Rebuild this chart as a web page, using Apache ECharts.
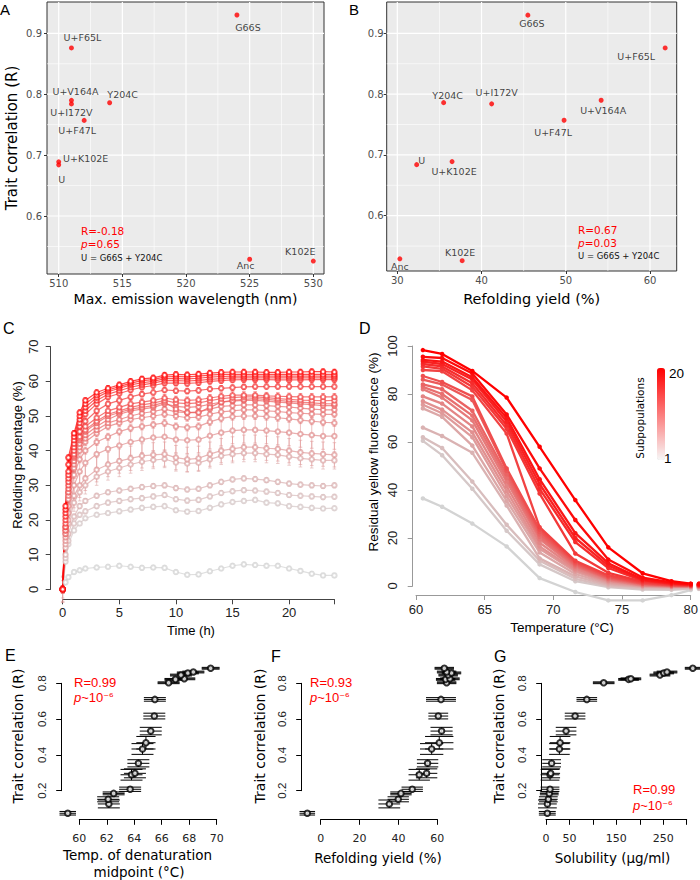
<!DOCTYPE html>
<html>
<head>
<meta charset="utf-8">
<script src="https://cdn.jsdelivr.net/npm/echarts@6/dist/echarts.min.js"></script>
<style>
  html, body { margin: 0; padding: 0; background: #fff; }
  #chart { width: 700px; height: 880px; }
</style>
</head>
<body>
<div id="chart"></div>
<script>
// ---- panels A / B : single mutants ----
const mutants = ['G66S', 'U+F65L', 'U+V164A', 'U+I172V', 'Y204C', 'U+F47L', 'U+K102E', 'U', 'Anc', 'K102E'];
const mutantR = [0.930, 0.876, 0.790, 0.784, 0.786, 0.757, 0.689, 0.684, 0.529, 0.526];
const emissionMax = [524, 511, 511, 511, 514, 512, 510, 510, 525, 530];
const mutantYield = [45.5, 61.8, 54.2, 41.2, 35.5, 49.8, 36.5, 32.3, 30.3, 37.7];

const aXMajor = [510, 515, 520, 525, 530];
const aXMinor = [512.5, 517.5, 522.5, 527.5];
const bXMajor = [30, 40, 50, 60];
const bXMinor = [35, 45, 55];
const abYMajor = [0.6, 0.7, 0.8, 0.9];
const abYMinor = [0.55, 0.65, 0.75, 0.85];

// ---- panel C : refolding time course, subpopulations 1..20 ----
const refoldTime = [0, 0.25, 0.5, 1, 1.5, 2, 3, 4, 5, 6, 7, 8, 9, 10, 11, 12, 13, 14, 15, 16, 17, 18, 19, 20, 21, 22, 23, 24];
const refold01 = [0, 2, 3.5, 5, 5.5, 6, 6.3, 6.5, 6.8, 6.5, 6.2, 6.3, 6.2, 5, 4.2, 4.3, 5.2, 6, 6.8, 7.2, 7, 6.8, 6.8, 6, 5.3, 4.5, 4, 4];
const refold02 = [0, 8, 13, 17, 19, 20.5, 21.5, 22, 22.5, 23, 23.5, 23.8, 24, 22.8, 22.4, 22.6, 23.5, 24.5, 25.2, 25.5, 25.8, 25, 24.8, 24, 23.8, 23.5, 23.3, 23.4];
const refold03 = [0, 9, 14, 19, 21.5, 22.5, 24, 25, 25.5, 26, 26.3, 26.8, 27.2, 26, 25.6, 25.8, 26.8, 27.8, 28.3, 28.6, 28.5, 28.2, 27.8, 27.2, 27, 26.8, 26.6, 26.7];
const refold04 = [0, 10, 16, 21, 24, 25.5, 27, 28, 28.5, 29, 29.5, 29.8, 30, 29.2, 28.8, 29, 30, 31, 31.7, 32, 31.8, 31.5, 31, 30.5, 30.2, 30, 29.8, 30];
const refold05 = [0, 12, 19, 25, 28, 30, 32.5, 34, 35, 36, 36.8, 37.3, 37.6, 36.6, 36.3, 36.5, 37.5, 38.5, 39, 39.3, 39.3, 39, 38.8, 38.3, 37.8, 37.5, 37.2, 37.2];
const refold06 = [0, 13, 20, 27, 30, 32, 34.5, 36, 37, 37.8, 38.5, 38.8, 39, 38, 37.5, 37.8, 39, 40, 40.5, 41, 41, 40.7, 40.5, 40, 39.5, 39.2, 39, 38.8];
const refold07 = [0, 14, 22, 30, 34, 36.5, 39, 40.5, 41.5, 42.5, 43.2, 43.8, 44, 43.2, 43, 43.2, 44.3, 45.2, 45.8, 46, 46, 45.8, 45.5, 45.2, 44.8, 44.5, 44.2, 44.2];
const refold08 = [0, 15, 24, 33, 37.5, 40, 42.5, 44, 45.5, 46.5, 47, 47.5, 48, 47, 46.7, 47, 48.3, 49.3, 49.8, 50, 50, 49.8, 49.5, 49.2, 48.8, 48.5, 48.2, 48];
const refold09 = [0, 16, 26, 35, 40, 42.5, 45, 47, 48, 49, 49.5, 50, 50.5, 50, 49.5, 49.7, 50.5, 51.2, 51.5, 51.8, 51.8, 51.5, 51.3, 51, 50.8, 50.6, 50.5, 50.5];
const refold10 = [0, 16, 27, 36, 41, 43.5, 46, 48, 49, 50, 50.8, 51.3, 52, 51.2, 51, 51.2, 52, 52.8, 53, 53.2, 53.2, 53, 52.8, 52.6, 52.3, 52, 51.8, 51.8];
const refold11 = [0, 17, 28, 37, 42, 44.5, 47, 49, 50.5, 51.5, 52, 52.5, 53.5, 52.8, 52.5, 52.7, 53.4, 54, 54.3, 54.5, 54.5, 54.3, 54, 53.8, 53.5, 53.3, 53, 53];
const refold12 = [0, 17, 28, 38, 43, 45.5, 48, 50, 51, 52, 52.5, 53, 54, 52, 51, 51, 52.5, 54, 54.5, 54.8, 55, 54.8, 54.5, 54.2, 54, 53.8, 53.6, 53.5];
const refold13 = [0, 18, 29, 38.5, 43.5, 46, 48.5, 50.5, 51.5, 52.5, 53.2, 53.7, 54.5, 53.8, 53.6, 53.8, 54.4, 55, 55.3, 55.5, 55.5, 55.3, 55, 54.8, 54.6, 54.5, 54.4, 54.5];
const refold14 = [0, 18, 30, 39, 44, 47, 49.5, 51.5, 52.5, 53.5, 54, 54.5, 55.2, 54.7, 54.5, 54.7, 55.2, 55.7, 56, 56, 56, 55.8, 55.7, 55.6, 55.5, 55.5, 55.5, 55.5];
const refold15 = [0, 19, 31, 40, 45.5, 48.5, 51.5, 53.5, 54.5, 55.5, 56.3, 56.8, 57.5, 57.3, 57.2, 57.4, 57.8, 58, 58.2, 58.4, 58.5, 58.5, 58.5, 58.5, 58.5, 58.5, 58.5, 58.5];
const refold16 = [0, 20, 32, 41, 47, 50.5, 53.5, 55.5, 56.5, 57.5, 58.3, 58.8, 59.5, 59.5, 59.4, 59.6, 60, 60.2, 60.4, 60.5, 60.5, 60.5, 60.4, 60.4, 60.4, 60.5, 60.5, 60.5];
const refold17 = [0, 21, 33, 42, 48, 51.5, 54.5, 56.3, 57.3, 58.3, 59, 59.5, 60.2, 60.2, 60.1, 60.3, 60.6, 60.8, 61, 61, 61, 61, 61, 61, 61, 61, 61, 61];
const refold18 = [0, 22, 34, 43, 49, 52.5, 55.3, 57, 58, 59, 59.6, 60, 60.8, 60.8, 60.7, 60.9, 61.2, 61.4, 61.5, 61.5, 61.5, 61.5, 61.5, 61.5, 61.5, 61.5, 61.5, 61.5];
const refold19 = [0, 23, 36, 44, 50, 53.5, 56, 57.5, 58.5, 59.5, 60.2, 60.5, 61.3, 61.4, 61.3, 61.5, 61.8, 62, 62, 62, 62, 62, 62, 62, 62, 62, 62, 62];
const refold20 = [0, 24, 38, 45, 51, 54.5, 56.8, 58, 59, 60, 60.7, 61, 61.8, 62, 61.9, 62.1, 62.4, 62.6, 62.7, 62.7, 62.7, 62.6, 62.6, 62.7, 62.7, 62.8, 62.8, 62.7];
const refoldSd = [0.6, 0.6, 0.7, 0.7, 2.5, 3.5, 3.8, 1, 1, 1, 1, 1, 1, 1, 0.8, 0.8, 0.8, 0.8, 0.8, 0.8];

// ---- panel D : thermal melt, subpopulations 1..20 ----
const meltTemp = [60.5, 61.9, 64.1, 66.6, 69.0, 71.6, 74.0, 76.5, 78.6, 80.0, 80.6];
const melt01 = [36.5, 33, 26, 16.5, 3.3, -2.5, -6, -6, -3.8, -1.7, -0.5];
const melt02 = [60.5, 54.5, 40.5, 23, 9, 2, -0.5, -1.5, -1.6, -1.2, -1.2];
const melt03 = [62, 57.5, 43.5, 25.5, 10.5, 3, 0, -1, -1.2, -1, -1];
const melt04 = [66, 62.5, 55.5, 33.5, 11.5, 4, 0.5, -0.5, -0.8, -0.7, -0.7];
const melt05 = [74, 70.5, 58.5, 35.5, 14, 5, 1, -0.2, -0.5, -0.5, -0.5];
const melt06 = [75.5, 72, 62, 37.5, 15.5, 6, 1.5, 0, -0.3, -0.4, -0.4];
const melt07 = [77, 73.5, 64, 39.5, 16.5, 6.6, 2, 0.2, -0.2, -0.3, -0.3];
const melt08 = [79, 76, 66.5, 41.5, 18, 7.3, 2.3, 0.3, -0.1, -0.2, -0.2];
const melt09 = [82, 78.5, 69, 43.5, 19.5, 8, 2.7, 0.5, 0, 0, 0];
const melt10 = [83, 80, 71, 45, 20.5, 8.5, 3, 0.7, 0.1, 0, 0];
const melt11 = [84, 82, 73, 46.5, 21.5, 9, 3.3, 0.9, 0.2, 0.1, 0.1];
const melt12 = [86, 84, 77.5, 48, 22.5, 9.5, 3.7, 1, 0.3, 0.2, 0.2];
const melt13 = [87.5, 85, 79, 49, 23.5, 10, 4, 1.2, 0.4, 0.2, 0.2];
const melt14 = [90, 89.5, 81.5, 63.5, 24.5, 10.5, 4.5, 1.5, 0.5, 0.3, 0.3];
const melt15 = [91.5, 90.5, 83, 65.5, 38.5, 13.5, 5.5, 1.8, 0.7, 0.4, 0.4];
const melt16 = [92.5, 91.5, 84.5, 67, 40.5, 18.3, 7.5, 2.2, 0.9, 0.5, 0.5];
const melt17 = [93.5, 92.5, 86, 68.5, 42.5, 20, 8.5, 2.5, 1, 0.6, 0.6];
const melt18 = [94.2, 93.5, 87, 70, 44.5, 22, 9.5, 2.8, 1.2, 0.7, 0.7];
const melt19 = [95.5, 95, 88.5, 71.5, 49, 27.5, 11, 3.5, 1.5, 0.8, 0.8];
const melt20 = [98.3, 96.7, 89.6, 78.5, 58, 35.8, 16.1, 5.3, 2, 1, 1];

// ---- panels E / F / G : per-subpopulation traits ----
const subR = [0.074, 0.126, 0.152, 0.185, 0.208, 0.289, 0.297, 0.353, 0.433, 0.468, 0.533, 0.617, 0.710, 0.803, 0.822, 0.825, 0.846, 0.858, 0.863, 0.884];
const subRSd = [0.01, 0.022, 0.014, 0.008, 0.012, 0.03, 0.025, 0.02, 0.03, 0.035, 0.021, 0.016, 0.01, 0.005, 0.005, 0.005, 0.005, 0.005, 0.005, 0.005];
const tmMid = [59.16, 62.15, 62.1, 62.5, 63.7, 63.8, 64.05, 64.3, 64.6, 64.85, 65.2, 65.46, 65.5, 66.5, 67.0, 67.64, 67.4, 67.9, 68.3, 69.56];
const tmMidSd = [0.6, 0.8, 0.8, 0.8, 0.8, 0.8, 0.8, 0.8, 0.8, 0.7, 0.8, 0.8, 0.8, 0.8, 0.8, 0.8, 0.8, 0.8, 0.8, 0.65];
const subYield = [-6.9, 35.3, 39.9, 41.3, 47.1, 50.7, 54.5, 55.0, 57.1, 61.0, 62.2, 60.5, 61.9, 64.8, 64.3, 66.5, 65.6, 67.3, 64.8, 63.6];
const subYieldSd = [4, 5.6, 5.5, 5.5, 5.5, 5.5, 5.5, 5.5, 6, 7.3, 5.7, 5.1, 7.7, 5, 5, 5, 5, 5, 5, 5];
const solubility = [2.8, 3, 5, 7, 8.6, 8.6, 10, 12, 28.6, 30, 42.8, 62, 87, 123, 176, 181, 243, 251, 258, 313];
const solubilitySd = [18, 20, 20, 20, 20, 20, 20, 20, 22, 22, 22, 22, 22, 23, 22, 22, 22, 22, 22, 17];
const gLabelled = [0, 50, 150, 250];

const refoldCurves = [refold01, refold02, refold03, refold04, refold05, refold06, refold07, refold08, refold09, refold10,
  refold11, refold12, refold13, refold14, refold15, refold16, refold17, refold18, refold19, refold20];
const meltCurves = [melt01, melt02, melt03, melt04, melt05, melt06, melt07, melt08, melt09, melt10,
  melt11, melt12, melt13, melt14, melt15, melt16, melt17, melt18, melt19, melt20];

// label placement (pixel shift from the point), kept apart from the data
const labelShiftA = {
  'G66S': [11, 12], 'U+F65L': [11, -10], 'U+V164A': [4, -9], 'U+I172V': [0, 9], 'Y204C': [13, -8],
  'U+F47L': [-7, 10], 'U+K102E': [27, -3], 'U': [3, 15], 'Anc': [-4, 6], 'K102E': [-13, -10]
};
const labelShiftB = {
  'G66S': [4, 8], 'U+F65L': [-29, 9], 'U+V164A': [2, 10], 'U+I172V': [5, -11], 'Y204C': [4, -7],
  'U+F47L': [-11, 12], 'U+K102E': [2, 10], 'U': [5, -4], 'Anc': [0, 8], 'K102E': [-2, -8]
};

const DJ = 'DejaVu Sans';
const LB = 'Liberation Sans';

function ramp(i, n, alpha) {
  const t = i / (n - 1);
  const r = Math.round(211 + 44 * t);
  const gb = Math.round(211 * (1 - t));
  return 'rgba(' + r + ',' + gb + ',' + gb + ',' + alpha + ')';
}

// ggplot-like panel grid lines, placed through the axis scales
function ggGridLines(idx, dir, majors, minors, across) {
  const data = minors.map(v => [v, 0.6]).concat(majors.map(v => [v, 1.2]));
  return {
    type: 'custom', xAxisIndex: idx, yAxisIndex: idx, z: 1, silent: true, clip: true,
    renderItem(params, api) {
      const cs = params.coordSys;
      const v = api.value(0), w = api.value(1);
      const st = { stroke: '#ffffff', lineWidth: w, fill: null };
      if (dir === 'x') {
        const p = api.coord([v, across]);
        return { type: 'line', shape: { x1: p[0], y1: cs.y, x2: p[0], y2: cs.y + cs.height }, style: st };
      }
      const p = api.coord([across, v]);
      return { type: 'line', shape: { x1: cs.x, y1: p[1], x2: cs.x + cs.width, y2: p[1] }, style: st };
    },
    data
  };
}

function ggX(idx, min, max, ticks) {
  return {
    type: 'value', gridIndex: idx, min, max,
    axisLine: { show: false },
    axisTick: { show: true, length: 3, customValues: ticks, lineStyle: { color: '#333' } },
    axisLabel: { customValues: ticks, margin: 4, fontSize: 10, fontFamily: DJ, color: '#4D4D4D' },
    splitLine: { show: false }
  };
}
function ggY(idx, min, max, ticks, margin) {
  return {
    type: 'value', gridIndex: idx, min, max,
    axisLine: { show: false },
    axisTick: { show: true, length: 3, customValues: ticks, lineStyle: { color: '#333' } },
    axisLabel: { customValues: ticks, margin, fontSize: 10, fontFamily: DJ, color: '#4D4D4D' },
    splitLine: { show: false }
  };
}

// base-graphics style axis, pushed out from the plot by `offset`
function rAxis(idx, o) {
  return {
    type: 'value', gridIndex: idx, min: o.min, max: o.max, interval: o.interval, offset: o.offset,
    axisLine: { show: true, onZero: false, lineStyle: { color: o.color, width: 1 } },
    axisTick: { show: true, length: o.tick || 5, lineStyle: { color: o.color } },
    axisLabel: {
      margin: o.margin, rotate: o.rotate || 0, fontSize: o.size, fontFamily: o.font, color: o.labelColor,
      formatter: o.formatter
    },
    splitLine: { show: false }
  };
}

function errBarV(color, cap) {
  return function (params, api) {
    const x = api.value(0), y = api.value(1), e = api.value(2);
    const hi = api.coord([x, y + e]), lo = api.coord([x, y - e]);
    const st = { stroke: color, lineWidth: 0.8, fill: null };
    return {
      type: 'group', children: [
        { type: 'line', shape: { x1: hi[0], y1: hi[1], x2: lo[0], y2: lo[1] }, style: st },
        { type: 'line', shape: { x1: hi[0] - cap, y1: hi[1], x2: hi[0] + cap, y2: hi[1] }, style: st },
        { type: 'line', shape: { x1: lo[0] - cap, y1: lo[1], x2: lo[0] + cap, y2: lo[1] }, style: st }
      ]
    };
  };
}

function errCross(params, api) {
  const x = api.value(0), y = api.value(1), ex = api.value(2), ey = api.value(3);
  const l = api.coord([x - ex, y]), r = api.coord([x + ex, y]);
  const lt = api.coord([x - ex, y + ey]), rt = api.coord([x + ex, y + ey]);
  const lb = api.coord([x - ex, y - ey]), rb = api.coord([x + ex, y - ey]);
  const t = api.coord([x, y + ey]), b = api.coord([x, y - ey]);
  const st = { stroke: '#000', lineWidth: 1, fill: null };
  return {
    type: 'group', children: [
      { type: 'line', shape: { x1: l[0], y1: l[1], x2: r[0], y2: r[1] }, style: st },
      { type: 'line', shape: { x1: lt[0], y1: lt[1], x2: rt[0], y2: rt[1] }, style: st },
      { type: 'line', shape: { x1: lb[0], y1: lb[1], x2: rb[0], y2: rb[1] }, style: st },
      { type: 'line', shape: { x1: t[0], y1: t[1], x2: b[0], y2: b[1] }, style: st }
    ]
  };
}

function txt(x, y, text, o) {
  o = o || {};
  const color = o.color || '#000';
  const style = {
    text, fill: color, fontSize: o.size || 13, fontFamily: o.font || DJ, fontStyle: 'normal',
    align: o.align || 'center', textAlign: o.align || 'center',
    verticalAlign: 'middle', textVerticalAlign: 'middle'
  };
  if (o.rich) {
    style.rich = {
      i: { fill: color, fontSize: o.size || 13, fontFamily: o.font || DJ, fontStyle: 'italic' },
      n: { fill: color, fontSize: o.size || 13, fontFamily: o.font || DJ },
      s: { fill: color, fontSize: (o.size || 13) * 0.85, fontFamily: DJ }
    };
  }
  return { type: 'text', x, y, rotation: o.rot || 0, silent: true, z: 100, style };
}

const series = [];

// A
series.push(ggGridLines(0, 'x', aXMajor, aXMinor, 0.7));
series.push(ggGridLines(0, 'y', abYMajor, abYMinor, 520));
series.push({
  type: 'scatter', xAxisIndex: 0, yAxisIndex: 0, z: 10, symbolSize: 5,
  itemStyle: { color: '#FF0000' },
  label: { show: true, position: 'inside', formatter: '{b}', color: '#111', fontSize: 9.5, fontFamily: DJ },
  data: mutants.map((name, i) => ({ name, value: [emissionMax[i], mutantR[i]], label: { offset: labelShiftA[name] } }))
});
// B
series.push(ggGridLines(1, 'x', bXMajor, bXMinor, 0.7));
series.push(ggGridLines(1, 'y', abYMajor, abYMinor, 45));
series.push({
  type: 'scatter', xAxisIndex: 1, yAxisIndex: 1, z: 10, symbolSize: 5,
  itemStyle: { color: '#FF0000' },
  label: { show: true, position: 'inside', formatter: '{b}', color: '#111', fontSize: 9.5, fontFamily: DJ },
  data: mutants.map((name, i) => ({ name, value: [mutantYield[i], mutantR[i]], label: { offset: labelShiftB[name] } }))
});

// C
refoldCurves.forEach((curve, k) => {
  const col = ramp(k, 20, 0.72);
  series.push({
    type: 'custom', xAxisIndex: 2, yAxisIndex: 2, z: 2, silent: true,
    renderItem: errBarV(col, 1.8),
    data: refoldTime.map((t, j) => [t, curve[j], refoldSd[k]])
  });
  series.push({
    type: 'line', xAxisIndex: 2, yAxisIndex: 2, z: 3, silent: true,
    symbol: 'emptyCircle', symbolSize: 4.5,
    lineStyle: { color: col, width: 1.2 },
    itemStyle: { color: col, borderColor: col, borderWidth: 1 },
    data: refoldTime.map((t, j) => [t, curve[j]])
  });
});

// D
meltCurves.forEach((curve, k) => {
  const col = ramp(k, 20, 1);
  series.push({
    type: 'line', xAxisIndex: 3, yAxisIndex: 3, z: 3, silent: true, clip: false,
    symbol: 'circle', symbolSize: 4.5,
    lineStyle: { color: col, width: 2.3 },
    itemStyle: { color: col, borderWidth: 0 },
    data: meltTemp.map((t, j) => [t, curve[j]])
  });
});
const legendHolder = series.length;
series.push({ type: 'scatter', xAxisIndex: 3, yAxisIndex: 3, data: [], silent: true });

// E, F, G
[[4, tmMid, tmMidSd], [5, subYield, subYieldSd], [6, solubility, solubilitySd]].forEach(([ix, xs, xsd]) => {
  series.push({
    type: 'custom', xAxisIndex: ix, yAxisIndex: ix, z: 2, silent: true, clip: false,
    renderItem: errCross,
    data: subR.map((r, i) => [xs[i], r, xsd[i], subRSd[i]])
  });
  series.push({
    type: 'scatter', xAxisIndex: ix, yAxisIndex: ix, z: 3, silent: true, clip: false,
    symbol: 'emptyCircle', symbolSize: 5.5,
    itemStyle: { color: '#000', borderColor: '#000', borderWidth: 1 },
    data: subR.map((r, i) => [xs[i], r])
  });
});

const noBounds = { outerBoundsMode: 'none', containLabel: false };
const option = {
  animation: false,
  backgroundColor: '#ffffff',
  textStyle: { fontFamily: DJ },
  grid: [
    Object.assign({ left: 47, top: 2, width: 277, height: 272, show: true, backgroundColor: '#EBEBEB', borderColor: '#333', borderWidth: 1 }, noBounds),
    Object.assign({ left: 386.7, top: 2, width: 290, height: 269, show: true, backgroundColor: '#EBEBEB', borderColor: '#333', borderWidth: 1 }, noBounds),
    Object.assign({ left: 62.7, top: 346.7, width: 271.7, height: 242.6 }, noBounds),
    Object.assign({ left: 416, top: 346, width: 274.7, height: 240 }, noBounds),
    Object.assign({ left: 79.3, top: 683.3, width: 137.4, height: 107.4 }, noBounds),
    Object.assign({ left: 320.7, top: 683.3, width: 116.6, height: 107.4 }, noBounds),
    Object.assign({ left: 546, top: 683.3, width: 140.7, height: 107.4 }, noBounds)
  ],
  xAxis: [
    ggX(0, 509.08, 530.84, aXMajor),
    ggX(1, 28.74, 63.17, bXMajor),
    rAxis(2, { min: 0, max: 24, interval: 5, offset: 10, color: '#444', margin: 7, size: 13, font: LB, labelColor: '#222',
      formatter: v => (v % 5 === 0 ? String(v) : '') }),
    rAxis(3, { min: 60, max: 80, interval: 5, offset: 9, color: '#999', margin: 8, size: 13, font: LB, labelColor: '#222' }),
    rAxis(4, { min: 60, max: 70, interval: 2, offset: 28.6, color: '#000', margin: 14, size: 11, font: DJ, labelColor: '#222', tick: 5.5 }),
    rAxis(5, { min: 0, max: 60, interval: 20, offset: 28.6, color: '#000', margin: 14, size: 11, font: DJ, labelColor: '#222', tick: 5.5 }),
    rAxis(6, { min: 0, max: 300, interval: 50, offset: 28.6, color: '#000', margin: 14, size: 11, font: DJ, labelColor: '#222', tick: 5.5,
      formatter: v => (gLabelled.indexOf(v) >= 0 ? String(v) : '') })
  ],
  yAxis: [
    ggY(0, 0.5048, 0.9514, abYMajor, 5),
    ggY(1, 0.509, 0.9516, abYMajor, 3),
    rAxis(2, { min: 0, max: 70, interval: 10, offset: 12, color: '#444', margin: 11, size: 13, font: LB, labelColor: '#222', rotate: 90 }),
    rAxis(3, { min: 0, max: 100, interval: 20, offset: 3.3, color: '#999', margin: 14, size: 13, font: LB, labelColor: '#222', rotate: 90 }),
    rAxis(4, { min: 0.2, max: 0.8, interval: 0.2, offset: 17.6, color: '#000', margin: 14, size: 11.5, font: LB, labelColor: '#222', rotate: 90, tick: 5.5 }),
    rAxis(5, { min: 0.2, max: 0.8, interval: 0.2, offset: 19, color: '#000', margin: 14, size: 11.5, font: LB, labelColor: '#222', rotate: 90, tick: 5.5 }),
    rAxis(6, { min: 0.2, max: 0.8, interval: 0.2, offset: 4.3, color: '#000', margin: 14, size: 11.5, font: LB, labelColor: '#222', rotate: 90, tick: 5.5 })
  ],
  visualMap: {
    type: 'continuous', min: 1, max: 20, seriesIndex: legendHolder, orient: 'vertical',
    left: 657, top: 368, itemWidth: 8, itemHeight: 92, padding: 0, calculable: false, hoverLink: false,
    text: null, inRange: { color: ['#F7F7F7', '#FF0000'] }
  },
  graphic: [
    // panel letters
    txt(0, 9, 'A', { size: 15, font: LB, align: 'left' }),
    txt(349, 9, 'B', { size: 15, font: LB, align: 'left' }),
    txt(3, 328, 'C', { size: 16, font: LB, align: 'left' }),
    txt(359, 328, 'D', { size: 16, font: LB, align: 'left' }),
    txt(5, 655, 'E', { size: 16, font: LB, align: 'left' }),
    txt(271, 656, 'F', { size: 16, font: LB, align: 'left' }),
    txt(494, 656, 'G', { size: 16, font: LB, align: 'left' }),
    // A / B titles and stats
    txt(12, 138, 'Trait correlation (R)', { size: 15, rot: Math.PI / 2 }),
    txt(185.5, 299, 'Max. emission wavelength (nm)', { size: 14 }),
    txt(531.7, 299, 'Refolding yield (%)', { size: 14.5 }),
    txt(81, 231, 'R=-0.18', { size: 10.5, color: '#FF0000', align: 'left' }),
    txt(81, 244, '{i|p}{n|=0.65}', { size: 10.5, color: '#FF0000', align: 'left', rich: true }),
    txt(81, 258, 'U = G66S + Y204C', { size: 8.5, color: '#111', align: 'left' }),
    txt(578, 230, 'R=0.67', { size: 10.5, color: '#FF0000', align: 'left' }),
    txt(578, 243, '{i|p}{n|=0.03}', { size: 10.5, color: '#FF0000', align: 'left', rich: true }),
    txt(578, 256, 'U = G66S + Y204C', { size: 8.5, color: '#111', align: 'left' }),
    // C
    txt(17, 455, 'Refolding percentage (%)', { size: 13, font: LB, rot: Math.PI / 2 }),
    txt(191, 630, 'Time (h)', { size: 13, font: LB }),
    // D
    txt(373, 452, 'Residual yellow fluorescence (%)', { size: 13.5, font: LB, rot: Math.PI / 2 }),
    txt(562, 627, 'Temperature (°C)', { size: 13.5, font: LB }),
    txt(640, 418, 'Subpopulations', { size: 10.5, rot: Math.PI / 2 }),
    txt(669, 373, '20', { size: 13.5, font: LB, align: 'left' }),
    txt(664, 458, '1', { size: 13.5, font: LB, align: 'left' }),
    // E
    txt(18, 736, 'Trait correlation (R)', { size: 14, rot: Math.PI / 2 }),
    txt(137.5, 855, 'Temp. of denaturation', { size: 13.5 }),
    txt(139, 872, 'midpoint (°C)', { size: 13.5 }),
    txt(74, 682, 'R=0.99', { size: 13, font: LB, color: '#FF0000', align: 'left' }),
    txt(74, 697, '{i|p}{n|~10}{s|⁻⁶}', { size: 13, font: LB, color: '#FF0000', align: 'left', rich: true }),
    // F
    txt(260, 736, 'Trait correlation (R)', { size: 14, rot: Math.PI / 2 }),
    txt(378, 858, 'Refolding yield (%)', { size: 13.5 }),
    txt(310, 682, 'R=0.93', { size: 13, font: LB, color: '#FF0000', align: 'left' }),
    txt(310, 697, '{i|p}{n|~10}{s|⁻⁶}', { size: 13, font: LB, color: '#FF0000', align: 'left', rich: true }),
    // G
    txt(499, 736, 'Trait correlation (R)', { size: 14, rot: Math.PI / 2 }),
    txt(612.5, 858, 'Solubility (µg/ml)', { size: 13.5 }),
    txt(633, 789, 'R=0.99', { size: 13, font: LB, color: '#FF0000', align: 'left' }),
    txt(633, 805, '{i|p}{n|~10}{s|⁻⁶}', { size: 13, font: LB, color: '#FF0000', align: 'left', rich: true })
  ],
  series
};

const chart = echarts.init(document.getElementById('chart'), null, { renderer: 'svg', width: 700, height: 880 });
chart.setOption(option);
</script>
</body>
</html>
